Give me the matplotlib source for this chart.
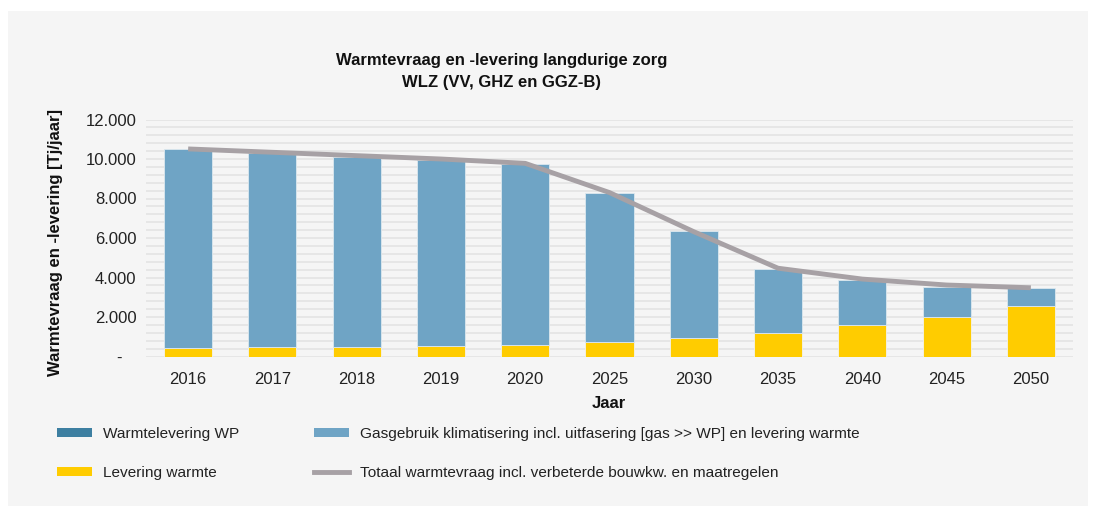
"""Warmtevraag en -levering langdurige zorg chart."""

import matplotlib
matplotlib.use("Agg")
import matplotlib.pyplot as plt
from matplotlib.patches import Patch, Rectangle
from matplotlib.lines import Line2D
from matplotlib.ticker import FuncFormatter, MultipleLocator

years = ["2016", "2017", "2018", "2019", "2020", "2025", "2030",
         "2035", "2040", "2045", "2050"]
warmte_wp = [0, 0, 0, 0, 0, 0, 0, 0, 0, 0, 0]
levering_warmte = [450, 480, 500, 530, 570, 735, 940, 1200, 1580, 2000, 2570]
gas_totaal = [10490, 10320, 10120, 9950, 9750, 8290, 6350, 4430, 3890, 3520, 3470]
totaal_vraag = [10510, 10340, 10170, 10000, 9780, 8300, 6320, 4470, 3920, 3620, 3480]

gasgebruik = [t - l for t, l in zip(gas_totaal, levering_warmte)]

C_WP = "#3d7fa1"
C_GAS = "#6fa4c5"
C_YEL = "#ffcc00"
C_LINE = "#a7a1a5"
FONT = "Liberation Sans"

W, H = 1094, 509
fig = plt.figure(figsize=(W / 100, H / 100), dpi=100, facecolor="white")
fig.patches.append(Rectangle((8 / W, 3 / H), 1080 / W, 495 / H,
                             transform=fig.transFigure, facecolor="#f5f5f5",
                             edgecolor="none", zorder=-10))

ax = fig.add_axes([146 / W, (H - 356.5) / H, 927 / W, 237 / H])
ax.set_facecolor("none")

x = range(len(years))
ax.bar(x, levering_warmte, width=0.57, color=C_YEL, edgecolor="#f3f3ee",
       linewidth=0.6, zorder=3)
ax.bar(x, warmte_wp, width=0.57, bottom=levering_warmte, color=C_WP,
       linewidth=0, zorder=3)
ax.bar(x, gasgebruik, width=0.57, bottom=levering_warmte, color=C_GAS,
       edgecolor="#dde8ef", linewidth=0.6, zorder=3)
ax.plot(x, totaal_vraag, color=C_LINE, linewidth=3.5, zorder=4,
        solid_capstyle="butt")

ax.set_xlim(-0.5, len(years) - 0.5)
ax.set_ylim(0, 12000)
ax.yaxis.set_major_locator(MultipleLocator(2000))
ax.yaxis.set_minor_locator(MultipleLocator(400))
ax.yaxis.set_major_formatter(FuncFormatter(
    lambda v, p: "-   " if v == 0 else f"{int(v):,}".replace(",", ".")))
ax.grid(axis="y", which="both", color="#e6e6e6", linewidth=1.4, zorder=0)
ax.set_xticks(list(x))
ax.set_xticklabels(years)
ax.tick_params(which="both", length=0, labelsize=12, colors="#222222")
ax.tick_params(axis="x", pad=11)
ax.tick_params(axis="y", pad=7)
for lab in ax.get_xticklabels() + ax.get_yticklabels():
    lab.set_fontfamily(FONT)
for s in ax.spines.values():
    s.set_visible(False)

fig.text(502 / W, 1 - 61 / H, "Warmtevraag en -levering langdurige zorg",
         ha="center", va="center", fontsize=12, fontweight="bold",
         family=FONT, color="#111111")
fig.text(502 / W, 1 - 83 / H, "WLZ (VV, GHZ en GGZ-B)",
         ha="center", va="center", fontsize=12, fontweight="bold",
         family=FONT, color="#111111")
fig.text(609 / W, 1 - 403 / H, "Jaar", ha="center", va="center",
         fontsize=12, fontweight="bold", family=FONT, color="#111111")
fig.text(56 / W, 1 - 242 / H, "Warmtevraag en -levering [Tj/jaar]",
         ha="center", va="center", rotation=90, fontsize=12,
         fontweight="bold", family=FONT, color="#111111")

col1 = [
    Patch(facecolor=C_WP, label="Warmtelevering WP"),
    Patch(facecolor=C_YEL, label="Levering warmte"),
]
col2 = [
    Patch(facecolor=C_GAS, label="Gasgebruik klimatisering incl. uitfasering [gas >> WP] en levering warmte"),
    Line2D([0], [0], color=C_LINE, linewidth=3.5, label="Totaal warmtevraag incl. verbeterde bouwkw. en maatregelen"),
]
leg_kw = dict(loc="upper left", frameon=False, borderpad=0, borderaxespad=0,
              prop={"family": FONT, "size": 11.1}, handlelength=2.3,
              handleheight=0.55, handletextpad=0.7, labelspacing=1.62,
              labelcolor="#222222")
fig.legend(handles=col1, bbox_to_anchor=(57 / W, 1 - 427 / H), **leg_kw)
fig.legend(handles=col2, bbox_to_anchor=(314 / W, 1 - 427 / H), **leg_kw)

fig.savefig("out.png", dpi=100, facecolor="white")
